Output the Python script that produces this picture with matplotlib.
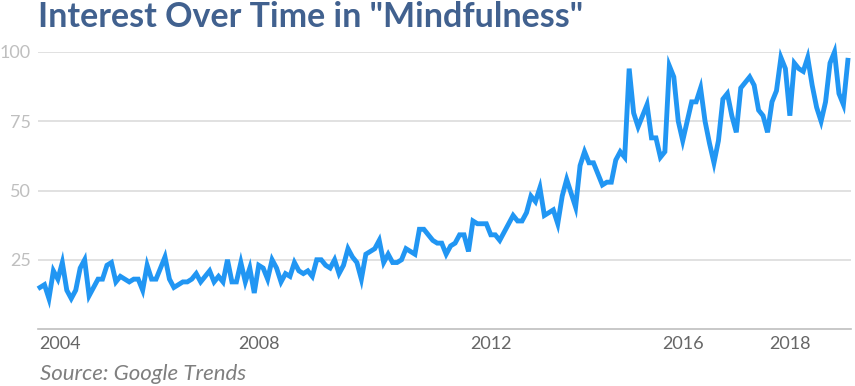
import matplotlib
matplotlib.use("Agg")
import matplotlib.pyplot as plt
import numpy as np


# monthly Google Trends index, Jan 2004 onwards
INTEREST = [
    15, 16, 11, 21, 18, 24, 14, 11, 14, 22, 25, 12,
    15, 18, 18, 23, 24, 17, 19, 18, 17, 18, 18, 14,
    23, 18, 18, 22, 26, 18, 15, 16, 17, 17, 18, 20,
    17, 19, 21, 17, 19, 17, 25, 17, 17, 24, 17, 22,
    13, 23, 22, 18, 25, 22, 17, 20, 19, 24, 21, 20,
    21, 19, 25, 25, 23, 22, 25, 20, 23, 29, 26, 24,
    18, 27, 28, 29, 32, 24, 27, 24, 24, 25, 29, 28,
    27, 36, 36, 34, 32, 31, 31, 27, 30, 31, 34, 34,
    28, 39, 38, 38, 38, 34, 34, 32, 35, 38, 41, 39,
    39, 42, 48, 46, 51, 41, 42, 43, 38, 48, 54, 49,
    44, 59, 64, 60, 60, 56, 52, 53, 53, 61, 64, 62,
    94, 78, 73, 77, 81, 69, 69, 62, 64, 95, 91, 75,
    68, 75, 82, 82, 87, 75, 67, 60, 68, 83, 85, 77,
    71, 87, 89, 91, 88, 79, 77, 71, 82, 86, 98, 94,
    77, 96, 94, 93, 98, 88, 80, 75, 82, 96, 100, 85,
    81, 97,
]

Y_TICKS = [25, 50, 75, 100]
X_TICK_LABELS = ["2004", "2008", "2012", "2016", "2018"]
X_TICK_POS = [4.5, 49, 101, 144, 168]  # month index where each label sits

TITLE = 'Interest Over Time in "Mindfulness"'
SOURCE = "Source: Google Trends"

LINE_COLOR = "#2196F3"
TITLE_COLOR = "#41618F"


def main():
    plt.rcParams["font.family"] = ["Lato", "DejaVu Sans"]

    fig = plt.figure(figsize=(8.55, 3.86), dpi=100)
    ax = fig.add_axes([38 / 855, 1 - 329 / 386, 813 / 855, 277 / 386])

    months = np.arange(len(INTEREST))
    ax.plot(months, INTEREST, color=LINE_COLOR, lw=3.5,
            solid_joinstyle="miter", clip_on=False, zorder=3)

    ax.set_xlim(-0.45, 181.7)
    ax.set_ylim(0, 100)

    ax.set_yticks(Y_TICKS)
    ax.set_yticklabels([str(v) for v in Y_TICKS])
    ax.yaxis.grid(True, color="#D9D9D9", lw=1.1)
    ax.set_axisbelow(True)

    ax.set_xticks(X_TICK_POS)
    ax.set_xticklabels(X_TICK_LABELS)

    for side in ["top", "right", "left"]:
        ax.spines[side].set_visible(False)
    ax.spines["bottom"].set_color("#BFBFBF")
    ax.spines["bottom"].set_linewidth(1.2)

    ax.tick_params(axis="y", length=0, pad=5, labelsize=13, labelcolor="#BFBFBF")
    ax.tick_params(axis="x", length=0, pad=5, labelsize=13, labelcolor="#666666")

    fig.text(38 / 855, 1 - 1 / 386, TITLE, ha="left", va="top",
             fontsize=24.5, fontweight="bold", color=TITLE_COLOR)
    fig.text(40 / 855, 1 - 374 / 386, SOURCE, ha="left", va="center",
             fontsize=16, fontstyle="italic", color="#7F7F7F")

    fig.savefig("out.png", dpi=100)


if __name__ == "__main__":
    main()
